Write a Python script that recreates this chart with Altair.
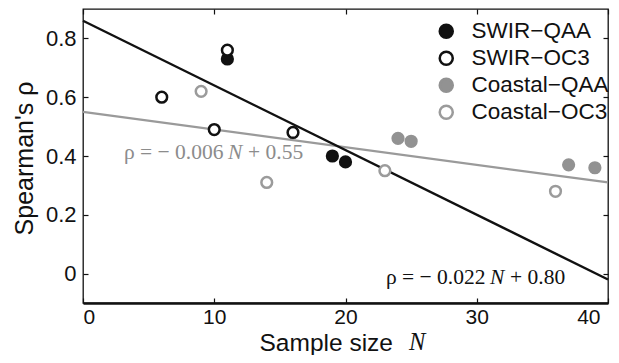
import altair as alt
import pandas as pd

# ---- data ----
series_names = ["SWIR\u2212QAA", "SWIR\u2212OC3", "Coastal\u2212QAA", "Coastal\u2212OC3"]

swir_qaa_n = [11, 19, 20]
swir_qaa_rho = [0.73, 0.40, 0.38]
swir_oc3_n = [6, 10, 11, 16]
swir_oc3_rho = [0.60, 0.49, 0.76, 0.48]
coastal_qaa_n = [24, 25, 37, 39]
coastal_qaa_rho = [0.46, 0.45, 0.37, 0.36]
coastal_oc3_n = [9, 14, 23, 36]
coastal_oc3_rho = [0.62, 0.31, 0.35, 0.28]

fit_n = [0, 40]
fit_swir_rho = [0.86, -0.02]
fit_coastal_rho = [0.55, 0.31]

x_ticks = [0, 10, 20, 30, 40]
y_ticks = [0, 0.2, 0.4, 0.6, 0.8]

# ---- styling ----
ink = "#111111"
gray_fill = "#929292"
gray_open = "#9b9b9b"
gray_line = "#9a9a9a"
gray_text = "#8c8c8c"
sans = "Liberation Sans"
serif = "Liberation Serif"

fill_colors = [ink, "#ffffff", gray_fill, "#ffffff"]
stroke_colors = [ink, ink, gray_fill, gray_open]

rows = []
for name, ns, rs in zip(series_names,
                        [swir_qaa_n, swir_oc3_n, coastal_qaa_n, coastal_oc3_n],
                        [swir_qaa_rho, swir_oc3_rho, coastal_qaa_rho, coastal_oc3_rho]):
    for n, r in zip(ns, rs):
        rows.append({"series": name, "N": n, "rho": r})
pts = pd.DataFrame(rows)

xs = alt.Scale(domain=[0, 40], nice=False, zero=False)
ys = alt.Scale(domain=[-0.1, 0.9], nice=False, zero=False)

gray_fit = alt.Chart(pd.DataFrame({"N": fit_n, "rho": fit_coastal_rho})).mark_line(
    color=gray_line, strokeWidth=2.2
).encode(
    x=alt.X("N:Q", scale=xs, axis=alt.Axis(orient="top", values=x_ticks, offset=-5, tickSize=5,
                                           labels=False, domain=False, title=None)),
    y=alt.Y("rho:Q", scale=ys, axis=alt.Axis(orient="right", values=y_ticks, offset=-5, tickSize=5,
                                             labels=False, domain=False, title=None)),
)

black_fit = alt.Chart(pd.DataFrame({"N": fit_n, "rho": fit_swir_rho})).mark_line(
    color=ink, strokeWidth=2.4
).encode(
    x=alt.X("N:Q", scale=xs, axis=alt.Axis(orient="bottom", offset=0, ticks=False, labels=False,
                                           domain=True, domainColor=ink, domainWidth=2.4, title=None)),
    y=alt.Y("rho:Q", scale=ys, axis=None),
)

legend_props = dict(title=None)
points = alt.Chart(pts).mark_point(shape="circle", size=115, strokeWidth=2.5, opacity=1).encode(
    x=alt.X("N:Q", scale=xs, axis=alt.Axis(
        orient="bottom", values=x_ticks, format="d", offset=-5,
        tickSize=5, labelPadding=3, domain=False, labelFontSize=21,
        labelOffset={"condition": {"test": "datum.value == 40", "value": -8}, "value": 0},
        title="Sample size", titleX=176, titleY=52, titleFontSize=24.5,
        titleAlign="left", titleBaseline="alphabetic")),
    y=alt.Y("rho:Q", scale=ys, axis=alt.Axis(orient="left", values=y_ticks, format=".1~f", offset=-5,
                                             tickSize=5, labelPadding=7, domain=False,
                                             title="Spearman's \u03c1", titleX=-64, titleY=149,
                                             titleAngle=270, titleAlign="center",
                                             titleBaseline="middle")),
    fill=alt.Fill("series:N", scale=alt.Scale(domain=series_names, range=fill_colors),
                  legend=alt.Legend(**legend_props)),
    stroke=alt.Stroke("series:N", scale=alt.Scale(domain=series_names, range=stroke_colors),
                      legend=alt.Legend(**legend_props)),
)

one = pd.DataFrame({"k": [0]})

def txt(s, x, y, color, size, style="normal", font=serif, align="left"):
    return alt.Chart(one).mark_text(
        text=s, font=font, fontSize=size, fontStyle=style, color=color,
        align=align, baseline="alphabetic"
    ).encode(x=alt.value(x), y=alt.value(y))

eq_size = 21.5
texts = [
    txt("\u03c1 = \u2212 0.006", 41, 149.5, gray_text, eq_size),
    txt("N", 145, 149.5, gray_text, eq_size, style="italic"),
    txt("+ 0.55", 165, 149.5, gray_text, eq_size),
    txt("\u03c1 = \u2212 0.022", 303, 275, ink, eq_size),
    txt("N", 407, 275, ink, eq_size, style="italic"),
    txt("+ 0.80", 427, 275, ink, eq_size),
    txt("N", 326, 341, ink, 24.5, style="italic"),
]

chart = alt.layer(gray_fit, black_fit, points, *texts).resolve_axis(
    x="independent", y="independent"
).properties(
    width=525, height=294,
    autosize=alt.AutoSizeParams(type="none"),
    padding={"left": 75, "top": 1, "right": 3, "bottom": 52},
).configure_view(
    stroke=ink, strokeWidth=1.3
).configure_axis(
    grid=False, labelFont=sans, labelFontSize=22, labelColor=ink,
    titleFont=sans, titleFontSize=25, titleFontWeight="normal", titleColor=ink,
    tickColor=ink, tickWidth=1.2,
).configure_legend(
    orient="none", legendX=352, legendY=11, padding=0,
    labelFont=sans, labelFontSize=22.5, labelColor=ink, labelOffset=14,
    symbolSize=170, symbolStrokeWidth=2.5, symbolOpacity=1, rowPadding=3,
)

chart.save("out.html", embed_options={"renderer": "svg", "actions": False})
